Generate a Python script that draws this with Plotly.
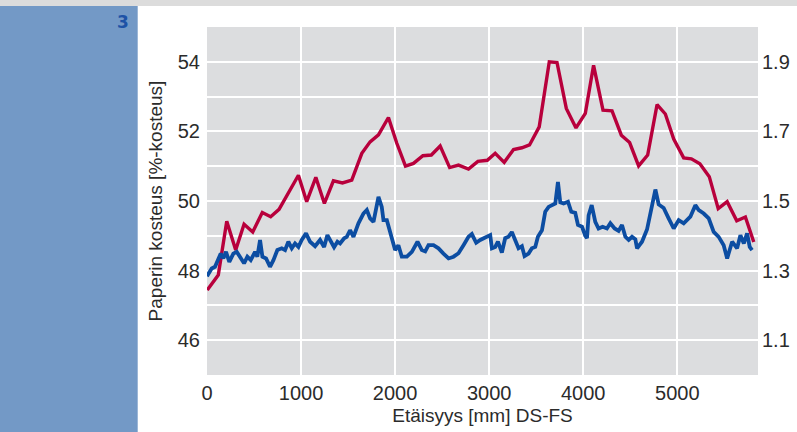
import plotly.graph_objects as go

# Distance across the web, DS -> FS [mm]
red_x = [3, 120, 210, 305, 394, 486, 588, 677, 766, 870, 972, 1060, 1157, 1248, 1344,
         1440, 1539, 1646, 1734, 1823, 1929, 2018, 2110, 2195, 2295, 2385, 2479, 2580,
         2674, 2780, 2880, 2980, 3064, 3160, 3259, 3348, 3429, 3532, 3639, 3721, 3820,
         3923, 4022, 4110, 4210, 4306, 4405, 4493, 4589, 4685, 4785, 4873, 4962, 5068,
         5150, 5240, 5340, 5435, 5530, 5632, 5724, 5813]
# Paper moisture [%-kosteus], left axis
red_y = [47.44, 47.87, 49.42, 48.59, 49.33, 49.11, 49.67, 49.55, 49.76, 50.25, 50.74,
         49.98, 50.68, 49.93, 50.58, 50.52, 50.60, 51.37, 51.70, 51.90, 52.40, 51.66,
         51.00, 51.08, 51.30, 51.32, 51.58, 50.96, 51.03, 50.92, 51.14, 51.17, 51.37,
         51.11, 51.48, 51.53, 51.61, 52.13, 54.00, 53.98, 52.66, 52.10, 52.52, 53.90,
         52.61, 52.59, 51.89, 51.68, 51.01, 51.32, 52.77, 52.50, 51.78, 51.24, 51.21,
         51.07, 50.70, 49.78, 49.98, 49.43, 49.54, 48.82]

blue_x = [0, 50, 85, 120, 146, 174, 202, 237, 280, 316, 351, 394, 429, 465, 511, 535,
          564, 589, 628, 670, 706, 748, 795, 830, 865, 901, 936, 972, 1007, 1053, 1096,
          1149, 1202, 1245, 1280, 1316, 1351, 1387, 1415, 1458, 1486, 1521, 1557, 1610,
          1663, 1699, 1734, 1770, 1823, 1858, 1876, 1912, 1965, 2000, 2035, 2071, 2125,
          2178, 2238, 2284, 2320, 2355, 2408, 2461, 2514, 2568, 2621, 2674, 2727, 2780,
          2816, 2862, 2905, 2958, 3011, 3029, 3064, 3093, 3135, 3170, 3205, 3241, 3277,
          3312, 3348, 3376, 3419, 3454, 3490, 3518, 3561, 3596, 3632, 3667, 3703, 3731,
          3756, 3791, 3838, 3873, 3915, 3944, 3987, 4022, 4040, 4057, 4090, 4128, 4163,
          4206, 4252, 4288, 4334, 4376, 4412, 4448, 4483, 4519, 4554, 4572, 4625, 4678,
          4731, 4767, 4802, 4855, 4908, 4962, 5015, 5068, 5139, 5192, 5228, 5281, 5334,
          5387, 5440, 5493, 5530, 5583, 5636, 5671, 5707, 5742, 5770, 5795]
# Second quantity, right axis
blue_y = [1.284, 1.306, 1.311, 1.330, 1.349, 1.335, 1.354, 1.325, 1.349, 1.354, 1.340,
          1.321, 1.340, 1.330, 1.354, 1.340, 1.388, 1.340, 1.335, 1.311, 1.330, 1.359,
          1.364, 1.359, 1.383, 1.364, 1.378, 1.368, 1.388, 1.407, 1.383, 1.370, 1.388,
          1.368, 1.402, 1.383, 1.367, 1.383, 1.378, 1.393, 1.397, 1.416, 1.397, 1.436,
          1.464, 1.474, 1.450, 1.440, 1.512, 1.483, 1.445, 1.445, 1.388, 1.359, 1.373,
          1.340, 1.340, 1.354, 1.383, 1.359, 1.355, 1.373, 1.373, 1.364, 1.349, 1.335,
          1.340, 1.350, 1.373, 1.397, 1.405, 1.380, 1.388, 1.395, 1.402, 1.364, 1.368,
          1.383, 1.352, 1.393, 1.397, 1.411, 1.390, 1.364, 1.370, 1.342, 1.349, 1.364,
          1.368, 1.397, 1.416, 1.469, 1.483, 1.488, 1.493, 1.555, 1.496, 1.493, 1.498,
          1.469, 1.466, 1.431, 1.426, 1.400, 1.393, 1.459, 1.488, 1.440, 1.421, 1.426,
          1.421, 1.436, 1.421, 1.414, 1.431, 1.397, 1.388, 1.397, 1.390, 1.364, 1.383,
          1.418, 1.485, 1.533, 1.490, 1.480, 1.450, 1.421, 1.445, 1.436, 1.455, 1.488,
          1.474, 1.464, 1.450, 1.411, 1.397, 1.373, 1.335, 1.383, 1.364, 1.402, 1.378,
          1.407, 1.368, 1.359]

x_ticks = [0, 1000, 2000, 3000, 4000, 5000]
left_ticks = [46, 48, 50, 52, 54]
right_ticks = [1.1, 1.3, 1.5, 1.7, 1.9]

FONT = "Liberation Sans, Arial, sans-serif"
TXT = "#2b2b2b"
PLOT_BG = "#dcdddf"

# page geometry in pixels
W, H = 797, 432
L, R, T, B = 207, 39, 27, 57
pw, ph = W - L - R, H - T - B


def px_x(p):
    return (p - L) / pw


def px_y(p):
    return (H - B - p) / ph


fig = go.Figure()
fig.add_trace(go.Scatter(x=red_x, y=red_y, mode="lines", yaxis="y",
                         line=dict(color="#b8003c", width=3.4), showlegend=False))
fig.add_trace(go.Scatter(x=blue_x, y=blue_y, mode="lines", yaxis="y2",
                         line=dict(color="#0c4da2", width=3.8), showlegend=False))

shapes = [
    # grey strip across the top of the page
    dict(type="rect", xref="paper", yref="paper", x0=px_x(0), x1=px_x(W),
         y0=px_y(6), y1=px_y(0), fillcolor="#dcdcdc", line_width=0, layer="below"),
    # blue side panel
    dict(type="rect", xref="paper", yref="paper", x0=px_x(0), x1=px_x(137.7),
         y0=px_y(H), y1=px_y(6), fillcolor="#7399c6", line_width=0, layer="below"),
]

annotations = [
    dict(text="<b>3</b>", xref="paper", yref="paper", x=px_x(131), y=px_y(10),
         xanchor="right", yanchor="top", showarrow=False,
         font=dict(family="DejaVu Sans, sans-serif", size=17, color="#1d52a6")),
]

fig.update_layout(
    width=W, height=H,
    margin=dict(l=L, r=R, t=T, b=B, autoexpand=False),
    paper_bgcolor="white",
    plot_bgcolor=PLOT_BG,
    font=dict(family=FONT, size=20, color=TXT),
    shapes=shapes,
    annotations=annotations,
    xaxis=dict(
        range=[0, 5858], tickvals=x_ticks, showgrid=True, gridcolor="white",
        gridwidth=2, zeroline=False, showline=False, ticks="", ticklen=0,
        ticklabelstandoff=4,
        tickfont=dict(size=20, color=TXT),
        title=dict(text="Etäisyys [mm] DS-FS", standoff=5,
                   font=dict(size=19, color=TXT)),
    ),
    yaxis=dict(
        range=[45, 55], tickvals=left_ticks, showgrid=True, gridcolor="white",
        gridwidth=2, zeroline=False, showline=False, ticks="",
        ticklabelstandoff=6,
        tickfont=dict(size=20, color=TXT),
        minor=dict(dtick=1, tick0=45, showgrid=True, gridcolor="white", gridwidth=2),
        title=dict(text="Paperin kosteus [%-kosteus]", standoff=10,
                   font=dict(size=19, color=TXT)),
    ),
    yaxis2=dict(
        range=[1.0, 2.0], tickvals=right_ticks, overlaying="y", side="right",
        showgrid=False, zeroline=False, showline=False, ticks="",
        ticklabelstandoff=3,
        tickformat=".1f", tickfont=dict(size=20, color=TXT),
    ),
)

fig.write_html("out.html")
